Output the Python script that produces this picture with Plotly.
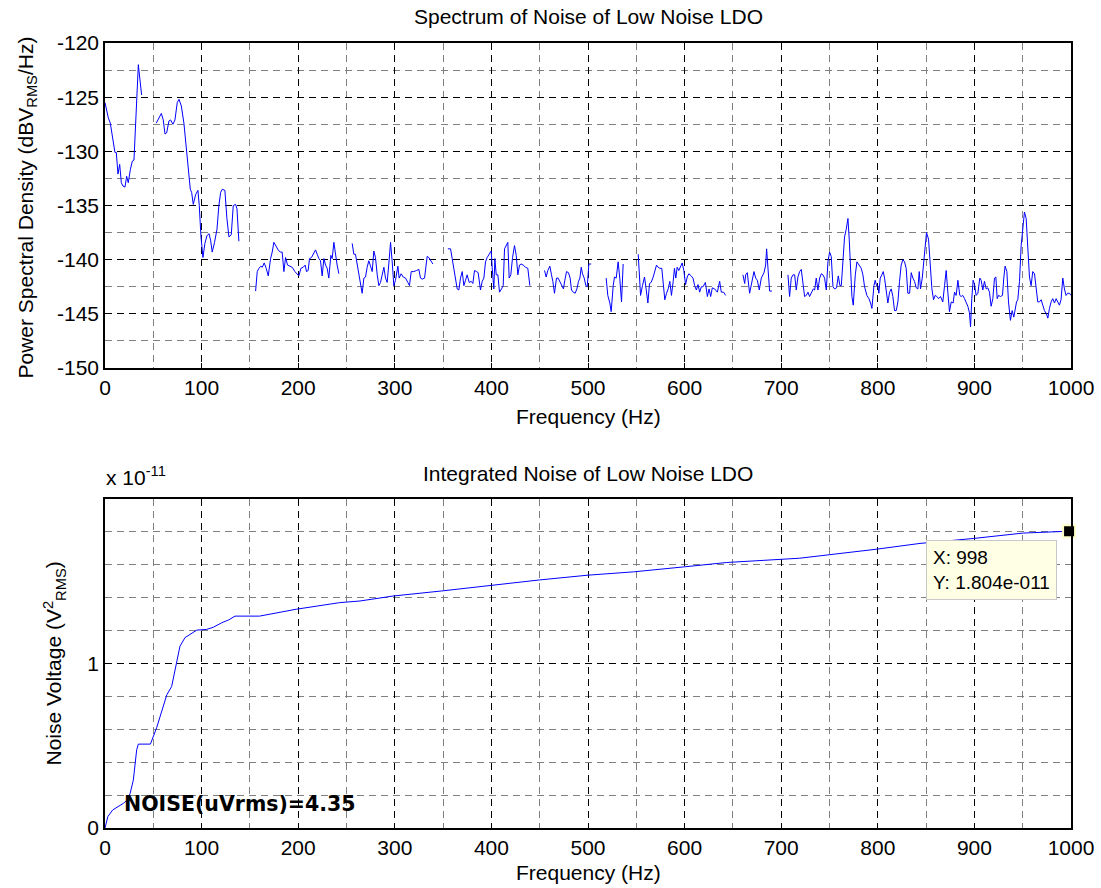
import plotly.graph_objects as go

# ---------------- data: spectrum (top) ----------------
# None entries mark gaps in the measured spectrum
spectrum_freq_hz = [
    0, 3.4, 5.5, 7.6, 9.3, 10.3, 11.7, 13.4, 15.2, 16.9, 18.6, 20.7, 22.4, 24.1, 26.2, 28.3, 30, 31.7, 34.5, 37.9, None,
    53.1, 55.9, 58.3, 60.3, 62.1, 63.8, 66.2, 67.9, 70.3, 72.4, 74.8, 76.6, 79, 81.7, 84.1, 86.2, 88.3, 89.7, 91.4, 93.8,
    96.2, 97.6, 99.3, 101.4, 103.4, 105.5, 107.6, 109.3, 111, 113.4, 115.9, 117.9, 119.7, 121.4, 124.1, 126.2, 128.3,
    130.7, 132.8, 135.2, 136.6, 138.6, None,
    155.9, 157.6, 159.3, 161.4, 162.8, 164.8, 166.9, 169, 171.4, 173.1, 174.8, 177.2, 179.3, 181.4, 183.4, 185.2, 186.9,
    189, 191, 193.8, 196.6, 199, 200.7, 202.8, 205.2, 207.2, 208.6, 210.3, 211.7, 213.8, 215.9, 217.9, 219.7, 221.4,
    223.1, 224.8, 226.6, 228.3, 230, 231.7, 233.8, 235.2, 236.9, 238.6, 240.3, 242.1, None,
    255.9, 257.6, 259.3, 261.7, 263.8, 266.2, 268, 269.7, 271.4, 273.1, 274.9, 276.6, 278.3, 280, 281.8, 283.5, 285.2,
    286.9, 288.7, 290.4, 292.1, 293.8, 295.6, 297.3, 299, 300.7, 303.2, 304.5, 306.6, 308.7, 311.1, 313.5, 315.2, 317,
    319.7, 322.5, 324.9, 326.6, 328.3, 330.8, 333.5, 335.2, 337, 339.4, None,
    354.9, 357.7, 359.4, 361.1, 362.9, 364.6, 366.3, 368, 369.8, 371.5, 373.2, 374.9, 377, 379.1, 380.8, 382.5, 384.6,
    386.3, 388.7, 390.5, 392.2, 393.9, 395.6, 397.7, 399.8, 400.8, 402.5, 403.6, 405, 406.7, 408.4, 410.5, 412.2, 413.6,
    415.3, 417, 418.4, 420.1, 421.9, 423.9, 425.7, 427.4, 429.1, 430.8, 432.9, 435.3, 437.7, 439.8, None,
    455, 456.7, 458.4, 460.5, 462.2, 463.6, 465.3, 467.4, 469.1, 470.9, 472.9, 474.6, 476, 477.8, 479.8, 481.5, 482.9,
    484.7, 486.7, 488.5, 490.2, 491.6, 493, 494.3, 496.1, 497.8, 499.2, 500.9, 503.3, None,
    518.8, 520.5, 522.6, 524, 526.1, 527.4, 529.2, 531.2, 532.9, 534.7, 536.4, None,
    552, 553.3, 554.4, 556.4, 558.5, 560.2, 562, 563.7, 565.4, 567.5, 569.2, 570.9, 572.6, 574.4, 576.4, 578.2, 579.5,
    581.3, 583, 584.7, 586.4, 588.2, 589.5, 590.9, 592.3, 594, 595.8, 597.5, 599.2, 601, 602.7, 604.4, 606.8, 608.7,
    610.4, 612.2, 613.9, 615.6, 617.3, 619.1, 621.5, 623.6, 625.3, 627, 628.7, 631.1, 633.9, 636.3, 638, 640.4, 642.5, None,
    660.4, 662.2, 663.2, 664.9, 667.3, 669.8, 671.8, 673.6, 675.3, 677.3, 679.4, 682.2, 683.9, 684.9, 686.3, 688, 690.4, None,
    707, 708.7, 710.4, 712.2, 713.9, 715.6, 717.3, 719.1, 720.8, 722.5, 724.2, 726, 727.7, 729.4, 731.1, 733.2, 734.6,
    736.3, 738, 739.8, 741.5, 743.2, 744.9, 746.7, 748.4, 750.1, 751.8, 753.6, 755.3, 757.3, 759.1, 760.8, 762.2, 764.2,
    765.6, 767.3, 769.1, 770.4, 771.8, 773.2, 774.6, 776.7, 778.4, 780.4, 782.9, 784.6, 786.3, 788.7, 790.8, 792.5,
    793.9, 796, 797.3, 798.7, 800.1, 801.1, 802.5, 804.2, 805.6, 807, 808.7, 810.4, 812.2, 813.9, 815.6, 817.3, 819.1,
    820.8, 822.5, 824.2, 826, 827.7, 829.4, 831.1, 832.9, 834.6, 836.3, 838, 839.8, 841.5, 842.9, 844.2, 846, 847.3,
    849.1, 850.4, 852.5, 854.2, 856, 857.7, 859.4, 861.1, 862.9, 864.9, 867.3, 869.1, 870.8, 872.5, 874.2, 876, 878,
    879.4, 881.1, 882.9, 884.9, 886.3, 888, 889.8, 891.5, 893.2, 894.9, 896, 897.3, 898.7, 900.1, 901.8, 903.6, 905.6,
    907, 908.7, 910.4, 912.2, 913.9, 915.6, 917.3, 919.1, 920.8, 922.2, 923.6, 925, 927, 929.1, 930.4, 931.8, 933.6,
    935.3, 937.3, 939.1, 940.8, 942.2, 943.6, 944.9, 946.7, 948.4, 950.1, 951.8, 953.6, 955.3, 957, 958.7, 960.4, 962.2,
    963.9, 965.6, 967.3, 969.1, 970.8, 972.5, 974.6, 976, 977.7, 979.4, 981.1, 982.9, 984.6, 986.3, 988, 989.7, 991.5,
    993.2, 994.9, 996.6, 998.4, 1000,
]
spectrum_psd_dbv = [
    -125.5, -126.9, -127.4, -128.6, -129.5, -130.1, -130.1, -132.1, -131.2, -132.9, -133.2, -133.3, -132.3, -132.9, -131.7, -130.9, -130.8, -127.8, -122.0, -124.8, None,
    -127.4, -126.9, -126.5, -127.1, -128.4, -128.3, -127.2, -127.1, -127.5, -127.1, -125.5, -125.2, -125.8, -127.4, -129.5, -132.0, -133.5, -133.8, -134.9, -134.0,
    -133.6, -135.0, -137.8, -139.8, -138.5, -137.8, -137.6, -138.2, -139.3, -138.4, -137.2, -135.0, -133.8, -133.5, -133.6, -136.2, -137.9,
    -137.7, -135.0, -134.9, -135.3, -138.3, None,
    -142.9, -141.1, -140.8, -140.6, -140.7, -140.3, -140.8, -141.5, -139.9, -139.3, -138.4, -138.8, -139.1, -139.3, -139.3, -141.1, -139.8,
    -140.5, -140.6, -140.7, -141.1, -141.3, -141.5, -140.8, -140.7, -140.5, -141.1, -141.0, -139.9, -139.8, -139.5, -139.1, -139.5, -139.9,
    -140.1, -141.5, -139.9, -140.5, -140.8, -141.7, -139.6, -139.9, -138.4, -139.6, -140.5, -141.3, None,
    -138.5, -139.5, -139.5, -140.7, -141.7, -143.1, -141.7, -141.6, -140.7, -140.1, -140.6, -141.1, -139.2, -139.8, -141.4, -142.4, -142.1,
    -141.4, -140.7, -141.7, -142.1, -140.4, -138.4, -140.2, -142.4, -141.9, -140.6, -141.7, -141.3, -141.6, -141.7, -142.1, -142.4, -141.1,
    -141.1, -141.0, -140.9, -141.7, -141.8, -141.7, -139.7, -139.8, -140.1, -140.4, None,
    -139.0, -139.0, -139.9, -140.8, -141.7, -142.7, -142.8, -141.7, -141.1, -142.4, -141.9, -141.4, -142.1, -142.0, -142.2, -141.0, -141.1,
    -141.2, -142.8, -142.0, -141.7, -140.2, -139.8, -139.5, -139.2, -140.7, -142.7, -139.9, -141.4, -141.4, -143.0, -142.7, -142.4, -139.0,
    -138.7, -138.4, -141.7, -141.4, -139.8, -138.7, -139.6, -141.4, -140.5, -140.4, -140.5, -140.7, -140.8, -142.4, None,
    -141.0, -141.6, -141.0, -140.6, -141.4, -142.0, -143.1, -141.7, -141.7, -142.0, -142.4, -142.7, -141.9, -141.1, -141.2, -141.7, -142.8,
    -143.0, -143.1, -142.7, -142.0, -141.7, -140.7, -141.3, -141.7, -142.4, -142.5, -140.4, -140.4, None,
    -141.7, -143.3, -144.0, -144.8, -142.4, -141.6, -141.7, -140.2, -141.7, -143.9, -140.4, None,
    -139.5, -141.7, -143.3, -142.4, -141.6, -142.7, -144.0, -142.2, -142.1, -141.6, -141.0, -140.5, -140.7, -140.8, -140.8, -142.4, -143.7,
    -143.1, -142.7, -142.0, -143.3, -142.0, -140.8, -141.7, -140.7, -141.0, -140.6, -140.3, -141.0, -142.3, -141.6, -141.3, -141.5, -141.7,
    -142.4, -142.8, -142.3, -143.0, -142.5, -142.5, -142.1, -143.4, -142.7, -143.4, -142.6, -142.7, -143.0, -142.0, -143.0, -143.0, -143.3, None,
    -141.4, -142.2, -141.4, -141.2, -143.1, -142.0, -141.1, -141.7, -141.9, -142.8, -141.7, -141.2, -140.5, -139.0, -140.8, -142.9, -142.9, None,
    -141.4, -143.4, -141.7, -141.4, -141.4, -142.8, -141.6, -141.1, -140.9, -142.3, -143.4, -143.3, -143.0, -143.4, -143.1, -142.7, -142.8,
    -141.7, -142.8, -141.7, -141.3, -141.4, -141.7, -142.8, -140.2, -139.3, -139.7, -142.5, -142.7, -142.6, -141.5, -142.4, -142.4, -139.8,
    -137.9, -137.2, -136.2, -138.1, -141.4, -143.4, -144.2, -141.4, -140.2, -140.5, -140.8, -141.4, -142.5, -143.3, -143.6, -144.0,
    -144.5, -142.4, -141.9, -142.4, -142.4, -143.1, -141.7, -141.4, -141.1, -141.7, -142.7, -144.0, -143.0, -142.7, -143.4, -144.7, -144.7,
    -143.9, -142.0, -140.5, -140.0, -140.2, -140.8, -143.1, -143.1, -141.2, -141.7, -142.0, -142.6, -142.7, -141.1, -142.7, -141.7, -140.2,
    -138.2, -137.5, -138.1, -140.5, -142.7, -143.7, -143.3, -143.4, -143.6, -143.4, -143.9, -142.4, -141.0, -143.0, -144.8, -143.9, -144.0,
    -143.0, -143.3, -141.9, -143.3, -143.4, -143.3, -143.6, -143.9, -144.3, -144.9, -146.2, -143.6, -141.9, -142.3, -143.3, -143.1, -141.7,
    -141.9, -142.8, -142.0, -142.7, -142.6, -143.0, -144.3, -143.6, -141.7, -141.6, -143.6, -143.3, -143.4, -143.3, -141.7, -140.6, -141.1,
    -143.9, -145.6, -144.7, -145.3, -144.7, -143.9, -143.7, -142.0, -138.7, -137.2, -135.6, -136.2, -138.7, -141.6, -142.4, -141.1, -141.3,
    -142.4, -143.9, -143.9, -143.7, -144.2, -144.7, -145.0, -145.4, -144.5, -143.9, -143.6, -144.0, -143.6, -143.9, -144.2, -143.7, -141.7,
    -142.7, -143.3, -143.1, -143.1, -143.3,
]

# ---------------- data: integrated noise (bottom), units of 1e-11 V^2 ----------------
integ_freq_hz = [
    0, 3, 8, 13.8, 19, 23, 26, 29.3, 32.8, 34.5, 47, 53.5, 59, 64, 69, 73.5, 77.6, 82.8, 90, 95,
    105, 112, 121, 128, 134.6, 160, 198, 243, 264, 298, 348.5, 398.5, 450, 500, 547, 598.6, 643.6,
    719, 748.8, 799, 843.7, 899, 950.6, 986.5, 998,
]
integ_noise_e11 = [
    0, 0.07, 0.11, 0.13, 0.15, 0.17, 0.21, 0.29, 0.475, 0.51, 0.51, 0.61, 0.71, 0.81, 0.86, 1.0, 1.105, 1.157, 1.185, 1.203,
    1.207, 1.22, 1.248, 1.265, 1.288, 1.288, 1.33, 1.37, 1.38, 1.41, 1.441, 1.476, 1.508, 1.537, 1.557, 1.587, 1.614,
    1.64, 1.66, 1.695, 1.73, 1.76, 1.793, 1.80, 1.804,
]

# tick labels
x_ticks = [0, 100, 200, 300, 400, 500, 600, 700, 800, 900, 1000]
psd_ticks = [-150, -145, -140, -135, -130, -125, -120]
integ_ticks = [0, 1]

datatip_x = 998
datatip_y_e11 = 1.804
datatip_y_text = "1.804e-011"
noise_text = "NOISE(uVrms)=4.35"

# ---------------- layout geometry (pixels) ----------------
W, H = 1101, 888
L, R = 105, 1071
T1, B1 = 43, 368
T2, B2 = 499, 828

def px(x):
    return x / W

def py(y):
    return 1 - y / H

FONT = "Liberation Sans, Arial, sans-serif"
FS = 21
BLUE = "#0000FF"
MAJ = dict(color="black", dash="7px,5px", width=1.3)
MIN = dict(color="#808080", dash="7px,5px", width=1)

fig = go.Figure()
fig.add_trace(go.Scatter(x=spectrum_freq_hz, y=spectrum_psd_dbv, mode="lines",
                         line=dict(color=BLUE, width=1), connectgaps=False,
                         xaxis="x", yaxis="y", showlegend=False))
fig.add_trace(go.Scatter(x=integ_freq_hz, y=integ_noise_e11, mode="lines",
                         line=dict(color=BLUE, width=1),
                         xaxis="x2", yaxis="y2", showlegend=False))
fig.add_trace(go.Scatter(x=[datatip_x], y=[datatip_y_e11], mode="markers",
                         marker=dict(symbol="square", size=12, color="black",
                                     line=dict(color="#FFFFC8", width=2)),
                         xaxis="x2", yaxis="y2", showlegend=False, cliponaxis=False))

common = dict(
    showgrid=True, gridcolor=MAJ["color"], griddash=MAJ["dash"], gridwidth=MAJ["width"],
    showline=True, linecolor="black", linewidth=1.5, mirror="ticks",
    ticks="inside", ticklen=5, tickcolor="black", zeroline=False, automargin=False,
    tickfont=dict(family=FONT, size=FS, color="black"),
)

def minor(tick0, dtick):
    return dict(tickmode="linear", tick0=tick0, dtick=dtick, showgrid=True, gridcolor=MIN["color"],
                griddash=MIN["dash"], gridwidth=MIN["width"], ticks="")

def xaxis_cfg(anchor):
    return dict(domain=[px(L), px(R)], anchor=anchor, range=[0, 1000],
                tickmode="array", tickvals=x_ticks, ticktext=[str(v) for v in x_ticks],
                minor=minor(0, 50), **common)

fig.update_layout(
    width=W, height=H, margin=dict(l=0, r=0, t=0, b=0, autoexpand=False),
    paper_bgcolor="white", plot_bgcolor="white",
    xaxis=xaxis_cfg("y"),
    yaxis=dict(domain=[py(B1), py(T1)], anchor="x", range=[-150, -120],
               tickmode="array", tickvals=psd_ticks, ticktext=[str(v) for v in psd_ticks],
               minor=minor(-150, 2.5), **common),
    xaxis2=xaxis_cfg("y2"),
    yaxis2=dict(domain=[py(B2), py(T2)], anchor="x2", range=[0, 2],
                tickmode="array", tickvals=integ_ticks, ticktext=[str(v) for v in integ_ticks],
                minor=minor(0, 0.2), **common),
)

txt = dict(family=FONT, size=FS, color="black")
ann = [
    dict(text="Spectrum of Noise of Low Noise LDO", x=px((L + R) / 2), y=py(17)),
    dict(text="Frequency (Hz)", x=px((L + R) / 2), y=py(417)),
    dict(text="Integrated Noise of Low Noise LDO", x=px((L + R) / 2), y=py(473)),
    dict(text="Frequency (Hz)", x=px((L + R) / 2), y=py(872)),
]
for a in ann:
    fig.add_annotation(xref="paper", yref="paper", xanchor="center", yanchor="middle",
                       showarrow=False, font=txt, **a)

fig.add_annotation(text="Power Spectral Density (dBV<sub>RMS</sub>/Hz)", xref="paper", yref="paper",
                   x=px(26), y=py((T1 + B1) / 2 + 2), xanchor="center", yanchor="middle",
                   textangle=-90, showarrow=False, font=txt)
fig.add_annotation(text="Noise Voltage (V<sup>2</sup><sub>RMS</sub>)", xref="paper", yref="paper",
                   x=px(54), y=py((T2 + B2) / 2), xanchor="center", yanchor="middle",
                   textangle=-90, showarrow=False, font=txt)
fig.add_annotation(text="x 10<sup>-11</sup>", xref="paper", yref="paper",
                   x=px(104), y=py(491), xanchor="left", yanchor="bottom",
                   showarrow=False, font=txt)

# NOISE text inside bottom axes
fig.add_annotation(text="<b>" + noise_text + "</b>", xref="x2", yref="y2",
                   x=18, y=0.145, xanchor="left", yanchor="middle", showarrow=False,
                   font=dict(family="DejaVu Sans, Verdana, sans-serif", size=20.5, color="black"))

# datatip box
fig.add_annotation(text="X: " + str(datatip_x) + "<br>Y: " + datatip_y_text, xref="paper", yref="paper",
                   x=px(926), y=py(540), xanchor="left", yanchor="top", align="left",
                   showarrow=False, font=dict(family=FONT, size=19, color="black"),
                   bgcolor="#FFFFE6", bordercolor="#C8C8C8", borderwidth=1, borderpad=6)

fig.write_html("out.html", config={"displayModeBar": False},
               post_script="document.body.style.margin='0';document.body.style.overflow='hidden';")
